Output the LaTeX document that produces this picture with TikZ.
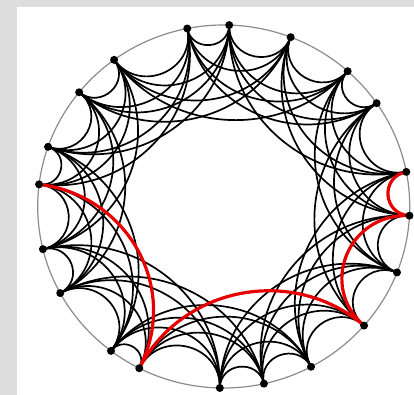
\documentclass[tikz,border=0pt]{standalone}
\usetikzlibrary{calc}
\definecolor{bggray}{RGB}{221,221,221}
\definecolor{rimgray}{RGB}{140,140,140}
\definecolor{redpath}{RGB}{230,0,0}
\tikzset{
  edge/.style={draw=black,line width=1.7pt},
  rededge/.style={draw=redpath,line width=3.2pt},
  rim/.style={draw=rimgray,line width=1.2pt},
  dot/.style={circle,fill=black,inner sep=0pt,minimum size=8pt},
}
\def\angs{{101.3,88.3,68.9,48.2,34.7,11.0,-2.9,-21.3,-41.0,-62.0,-77.5,-91.2,-117.0,-127.3,-151.5,-166.4,173.0,160.8,141.0,126.1}}
\newcommand\hypedge[3]{%
  \pgfmathsetmacro\aai{\angs[#2-1]}%
  \pgfmathsetmacro\aaj{\angs[#3-1]}%
  \pgfmathsetmacro\ddd{mod(abs(\aai-\aaj),360)}%
  \pgfmathsetmacro\ddd{min(\ddd,360-\ddd)}%
  \pgfmathsetmacro\kkk{4/3*tan(45-\ddd/4)*tan(\ddd/2)}%
  \draw[#1] (v#2.center) .. controls ($(v#2.center)!\kkk!(O)$) and ($(v#3.center)!\kkk!(O)$) .. (v#3.center);%
}
\begin{document}
\begin{tikzpicture}[x=1pt,y=1pt]
\fill[bggray] (0,0) rectangle (414,395);
\fill[white] (17,0) rectangle (414,388);
\useasboundingbox (0,0) rectangle (414,395);
\begin{scope}[shift={(223.7pt,188.5pt)},x=186pt,y=181.5pt]
  \coordinate (O) at (0,0);
  \draw[rim] (0,0) ellipse[x radius=186pt,y radius=181.5pt];
  \foreach \a [count=\i] in {101.3,88.3,68.9,48.2,34.7,11.0,-2.9,-21.3,-41.0,-62.0,-77.5,-91.2,-117.0,-127.3,-151.5,-166.4,173.0,160.8,141.0,126.1}
    \coordinate (v\i) at (\a:1);
  \foreach \i in {1,...,20}{
    \foreach \s in {1,...,4}{
      \pgfmathtruncatemacro\jj{mod(\i+\s-1,20)+1}
      \hypedge{edge}{\i}{\jj}
    }
  }
  \hypedge{rededge}{17}{13}
  \hypedge{rededge}{13}{9}
  \hypedge{rededge}{9}{7}
  \hypedge{rededge}{7}{6}
  \foreach \i in {1,...,20}
    \node[dot] (n\i) at (v\i) {};
\end{scope}
\end{tikzpicture}
\end{document}
